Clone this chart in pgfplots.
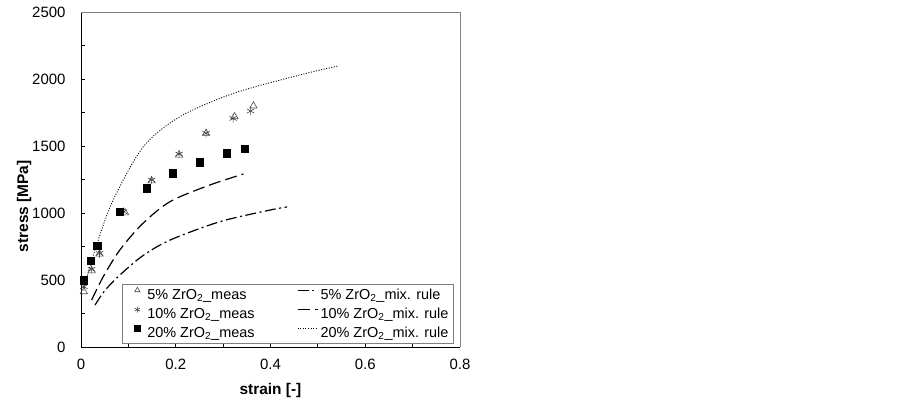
\documentclass[border=0pt]{standalone}
\usepackage{fontspec}
\setmainfont{Liberation Sans}
\usepackage{pgfplots}
\pgfplotsset{compat=1.18}
\begin{document}
\begin{tikzpicture}[x=1bp,y=1bp]
\useasboundingbox (0,0) rectangle (903,398);
\begin{axis}[
  at={(81bp,51bp)}, anchor=south west,
  scale only axis, width=379bp, height=335bp,
  xmin=0, xmax=0.8, ymin=0, ymax=2500,
  axis x line*=bottom, axis y line*=left,
  axis line style={black, line width=0.8pt},
  xtick={0,0.2,...,0.8}, minor xtick={0.1,0.3,0.5,0.7},
  ytick={0,500,...,2500}, minor ytick={250,750,...,2250},
  tick align=inside,
  major tick length=4bp, minor tick length=4bp,
  tick style={black, line width=0.8pt},
  xticklabels={0,0.2,0.4,0.6,0.8},
  yticklabel style={font=\fontsize{15}{17}\selectfont, xshift=-12bp},
  xticklabel style={font=\fontsize{15}{17}\selectfont, yshift=-9bp},
  /pgf/number format/assume math mode=true,
  /pgf/number format/1000 sep={},
  scaled ticks=false,
  xlabel={\textbf{strain [-]}},
  ylabel={\textbf{stress [MPa]}},
  label style={font=\fontsize{15.5}{17}\selectfont},
  xlabel style={yshift=-6bp},
  ylabel style={at={(ticklabel cs:0.42)}, yshift=-6bp},
  clip=false,
  legend columns=2,
  legend style={at={(rel axis cs:0.108,0.009)}, anchor=south west,
    draw=gray, line width=0.8pt, font=\fontsize{14.5}{15}\selectfont,
    row sep=3bp, inner xsep=3bp, inner ysep=2.5bp,
    /tikz/every odd column/.append style={column sep=0bp},
    /tikz/every even column/.append style={column sep=40bp}},
  legend cell align=left,
  legend image code/.code={\path[draw=none,fill=none] (0bp,0bp) rectangle (22bp,0bp); \draw[#1] (1bp,4.5bp) -- (21bp,4.5bp);},
]
\draw[gray, line width=0.9pt] (rel axis cs:0,1) -- (rel axis cs:1,1) -- (rel axis cs:1,0);

\addplot[only marks, mark=triangle, mark size=4.2bp, mark options={draw=black!70, line width=0.6pt},
  legend image code/.code={\path[draw=none,fill=none] (0bp,0bp) rectangle (20bp,0bp); \draw[gray,line width=0.5pt] plot[mark=triangle, mark size=3bp] coordinates {(12bp,5bp)};}]
 coordinates {(0.006,413)(0.0225,569)(0.039,694)(0.093,1002)(0.149,1241)(0.207,1433)(0.264,1595)(0.324,1719)(0.364,1799)};
\addlegendentry{5\% ZrO\textsubscript{2}\_meas}

\addplot[black, line width=1.2pt, dash pattern=on 11bp off 3.5bp on 2bp off 3.5bp, smooth]
 coordinates {(0.0296,313)(0.05,420)(0.082,537)(0.13,680)(0.188,798)(0.293,935)(0.399,1022)(0.435,1045)};
\addlegendentry{5\% ZrO\textsubscript{2}\_mix. rule}

\addplot[only marks, mark=asterisk, mark size=4.2bp, mark options={draw=black!75, line width=0.6pt},
  legend image code/.code={\path[draw=none,fill=none] (0bp,0bp) rectangle (20bp,0bp); \draw[gray,line width=0.5pt] plot[mark=asterisk, mark size=3bp] coordinates {(12bp,4.5bp)};}]
 coordinates {(0.006,450)(0.0225,580)(0.039,699)(0.09,1010)(0.149,1246)(0.207,1440)(0.264,1595)(0.321,1706)(0.358,1761)};
\addlegendentry{10\% ZrO\textsubscript{2}\_meas}

\addplot[black, line width=1.2pt, dash pattern=on 12bp off 5bp, smooth]
 coordinates {(0.0225,351)(0.047,525)(0.082,724)(0.13,920)(0.188,1085)(0.272,1209)(0.343,1291)};
\addlegendentry{10\% ZrO\textsubscript{2}\_mix. rule}

\addplot[only marks, mark=square*, mark size=3.7bp, mark options={draw=black, fill=black},
  legend image code/.code={\path[draw=none,fill=none] (0bp,0bp) rectangle (20bp,0bp); \fill[black] (9bp,1.5bp) rectangle (15bp,7.5bp);}]
 coordinates {(0.006,500)(0.0204,642)(0.0345,756)(0.082,1010)(0.139,1184)(0.193,1296)(0.25,1380)(0.307,1445)(0.346,1480)};
\addlegendentry{20\% ZrO\textsubscript{2}\_meas}

\addplot[black, line width=0.9pt, dash pattern=on 1bp off 1.6bp, smooth]
 coordinates {(0.006,440)(0.0317,749)(0.068,1097)(0.1316,1495)(0.209,1719)(0.322,1893)(0.462,2030)(0.5425,2097)};
\addlegendentry{20\% ZrO\textsubscript{2}\_mix. rule}
\end{axis}
\end{tikzpicture}
\end{document}
